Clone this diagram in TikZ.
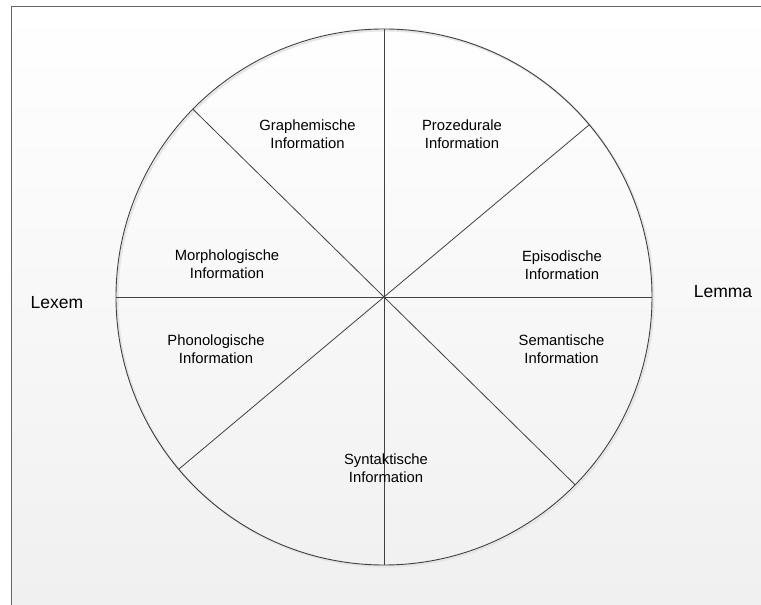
\documentclass[tikz,border=0pt]{standalone}
\usepackage{fontspec}
\setmainfont{Liberation Sans}
\usetikzlibrary{calc}
\begin{document}
\begin{tikzpicture}[x=1pt,y=1pt,
  frameline/.style={draw=black!60, line width=1pt},
  ring/.style={draw=black!75, line width=0.9pt},
  spoke/.style={draw=black!75, line width=0.8pt},
  infolabel/.style={align=center, font=\fontsize{14.8}{18}\selectfont, inner sep=0pt},
  sidelabel/.style={font=\fontsize{17.5}{21}\selectfont, inner sep=0pt}]
  \useasboundingbox (0,0) rectangle (761,605);
  % background panel with a soft vertical gradient
  \shade[top color=white, bottom color={rgb,255:red,240;green,240;blue,240}]
    (11,0) rectangle (761,598);
  \draw[frameline] (11,0) -- (11,598) -- (761,598);

  % the wheel, with a faint drop shadow on its rim
  \coordinate (c) at (384,308);
  \draw[black!10, line width=2pt] (385.5,306.5) circle[radius=268];
  \draw[ring] (c) circle[radius=268];
  \coordinate (top) at (384,576);
  \coordinate (bot) at (384,40);
  \coordinate (lft) at (116,308);
  \coordinate (rgt) at (652,308);
  \coordinate (ur) at ($(c)+(40:268)$);
  \coordinate (ll) at ($(c)+(220:268)$);
  \coordinate (ul) at ($(c)+(135.5:268)$);
  \coordinate (lr) at ($(c)+(-44.5:268)$);
  \draw[spoke] (top) -- (bot);
  \draw[spoke] (lft) -- (rgt);
  \draw[spoke] (ur) -- (ll);
  \draw[spoke] (ul) -- (lr);

  % sector labels
  \node[infolabel] (graph) at (307.5,471) {Graphemische\\Information};
  \node[infolabel] (proz) at (462,471) {Prozedurale\\Information};
  \node[infolabel] (morph) at (227,341) {Morphologische\\Information};
  \node[infolabel] (epi) at (562,340) {Episodische\\Information};
  \node[infolabel] (phon) at (216,255.5) {Phonologische\\Information};
  \node[infolabel] (sem) at (561.5,255.5) {Semantische\\Information};
  \node[infolabel] (syn) at (386,137) {Syntaktische\\Information};

  % side labels
  \node[sidelabel] (lexem) at (57,302) {Lexem};
  \node[sidelabel] (lemma) at (723,313) {Lemma};
\end{tikzpicture}
\end{document}
